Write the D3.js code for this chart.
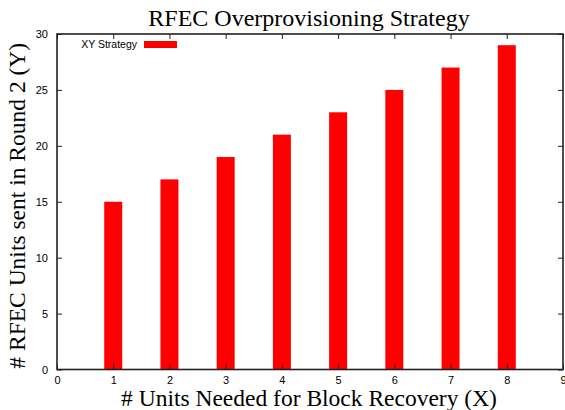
<!DOCTYPE html>
<html>
<head>
<meta charset="utf-8">
<script src="https://cdn.jsdelivr.net/npm/d3@7"></script>
<style>
  body { margin: 0; background: #fff; }
  svg { display: block; }
</style>
</head>
<body>
<svg id="chart" width="565" height="410"></svg>
<script>
// Units needed for recovery (X) and units sent in round 2 (Y)
const unitsNeeded = [1, 2, 3, 4, 5, 6, 7, 8];
const unitsSent = [15, 17, 19, 21, 23, 25, 27, 29];
const xTicks = [0, 1, 2, 3, 4, 5, 6, 7, 8, 9];
const yTicks = [0, 5, 10, 15, 20, 25, 30];
const seriesName = "XY Strategy";

const svg = d3.select("#chart");
const m = { left: 57, right: 563, top: 34, bottom: 369.5 };

const x = d3.scaleLinear().domain([0, 9]).range([m.left, m.right]);
const y = d3.scaleLinear().domain([0, 30]).range([m.bottom, m.top]);
const barW = 0.32;

// bars
svg.append("g").selectAll("rect")
  .data(unitsNeeded.map((d, i) => ({ x: d, y: unitsSent[i] })))
  .join("rect")
  .attr("x", d => x(d.x - barW / 2))
  .attr("width", d => x(d.x + barW / 2) - x(d.x - barW / 2))
  .attr("y", d => y(d.y))
  .attr("height", d => y(0) - y(d.y))
  .attr("fill", "#ff0000");

const tickLen = 5;
const axisColor = "#222";

// axes with inward ticks, mirrored on the opposite border
const xb = svg.append("g").attr("transform", `translate(0,${m.bottom})`)
  .call(d3.axisBottom(x).tickValues(xTicks).tickSize(-tickLen).tickPadding(7));
const xt = svg.append("g").attr("transform", `translate(0,${m.top})`)
  .call(d3.axisTop(x).tickValues(xTicks).tickSize(-tickLen).tickFormat(""));
const yl = svg.append("g").attr("transform", `translate(${m.left},0)`)
  .call(d3.axisLeft(y).tickValues(yTicks).tickSize(-tickLen).tickPadding(9));
const yr = svg.append("g").attr("transform", `translate(${m.right},0)`)
  .call(d3.axisRight(y).tickValues(yTicks).tickSize(-tickLen).tickFormat(""));

[xb, xt, yl, yr].forEach(g => {
  g.select(".domain").remove();
  g.selectAll("line").attr("stroke", axisColor).attr("stroke-width", 1);
  g.selectAll("text").attr("font-family", "Liberation Sans, Arial, sans-serif")
    .attr("font-size", 11).attr("fill", "#000");
});

// frame
svg.append("rect")
  .attr("x", m.left).attr("y", m.top)
  .attr("width", m.right - m.left).attr("height", m.bottom - m.top)
  .attr("fill", "none").attr("stroke", axisColor).attr("stroke-width", 1.6);

const serif = "Liberation Serif, Times New Roman, serif";

// title and axis labels
svg.append("text").attr("x", 309).attr("y", 26).attr("text-anchor", "middle")
  .attr("font-family", serif).attr("font-size", 24)
  .text("RFEC Overprovisioning Strategy");
svg.append("text").attr("x", 309).attr("y", 406).attr("text-anchor", "middle")
  .attr("font-family", serif).attr("font-size", 23.5)
  .text("# Units Needed for Block Recovery (X)");
svg.append("text")
  .attr("transform", `translate(25,${(m.top + m.bottom) / 2 + 4}) rotate(-90)`)
  .attr("text-anchor", "middle")
  .attr("font-family", serif).attr("font-size", 23.5)
  .text("# RFEC Units sent in Round 2 (Y)");

// legend
const lg = svg.append("g");
lg.append("text").attr("x", 137).attr("y", 48).attr("text-anchor", "end")
  .attr("font-family", "Liberation Sans, Arial, sans-serif").attr("font-size", 10.5)
  .text(seriesName);
lg.append("rect").attr("x", 144).attr("y", 41).attr("width", 33).attr("height", 7)
  .attr("fill", "#ff0000");
</script>
</body>
</html>
